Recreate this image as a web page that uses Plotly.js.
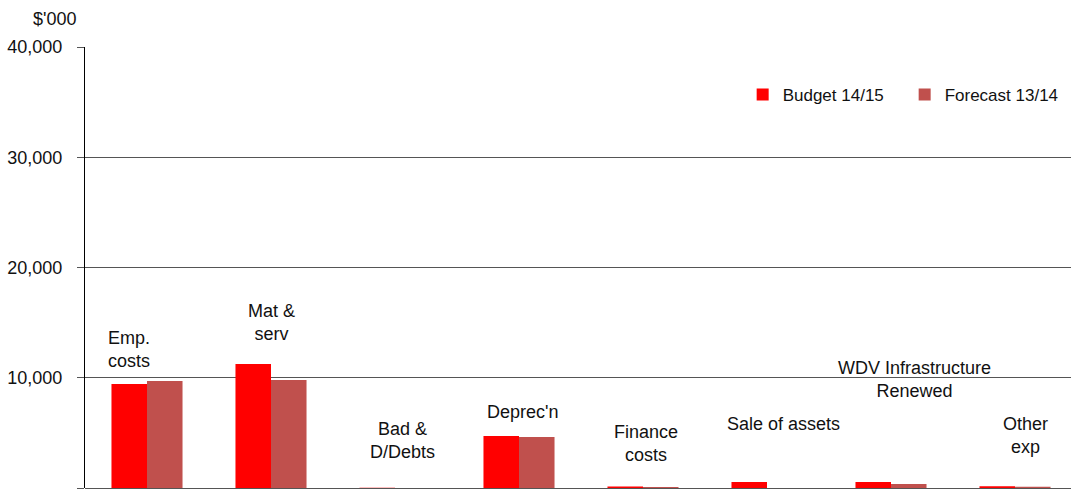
<!DOCTYPE html>
<html>
<head>
<meta charset="utf-8">
<script src="https://cdn.plot.ly/plotly-3.0.1.min.js"></script>
<style>html,body{margin:0;padding:0;background:#fff;}#chart{width:1071px;height:497px;}</style>
</head>
<body>
<div id="chart"></div>
<script>
const categories = ["Emp.<br>costs", "Mat &<br>serv", "Bad &<br>D/Debts", "Deprec'n", "Finance<br>costs", "Sale of assets", "WDV Infrastructure<br>Renewed", "Other<br>exp"];
const budget1415 = [9430, 11240, 20, 4710, 140, 540, 540, 170];
const forecast1314 = [9700, 9790, 10, 4620, 100, 0, 360, 120];
const labelY = [12600, 14970, 4350, 6890, 4040, 5800, 9840, 4760];
const labelShift = [-18, 0, 7, 3, 3, 16, 23, 10];
const tickVals = [0, 10000, 20000, 30000, 40000];
const tickText = ["0", "10,000", "20,000", "30,000", "40,000"];

const idx = categories.map((c, i) => i);
const font = {family: "Liberation Sans, Arial, sans-serif", size: 18, color: "#111"};

const traces = [
  {type: "bar", name: "Budget 14/15", x: idx, y: budget1415, marker: {color: "#FF0000"}},
  {type: "bar", name: "Forecast 13/14", x: idx, y: forecast1314, marker: {color: "#C0504D"}}
];

const annotations = categories.map((c, i) => ({
  x: i, y: labelY[i], xref: "x", yref: "y", text: c, showarrow: false,
  xshift: labelShift[i], xanchor: "center", yanchor: "middle", align: "center",
  font: font
}));
annotations.push({x: (54 - 85) / 986, y: (488 - 19) / 441, xref: "paper", yref: "paper",
  text: "$'000", showarrow: false, font: font, xanchor: "center", yanchor: "middle"});

const layout = {
  width: 1071, height: 497,
  margin: {l: 85, r: 0, t: 47, b: 9, autoexpand: false},
  paper_bgcolor: "#fff", plot_bgcolor: "#fff",
  font: font,
  barmode: "group",
  bargap: 0.427,
  bargroupgap: 0,
  showlegend: true,
  legend: {orientation: "h", x: 0.667, y: 0.891, xanchor: "left", yanchor: "middle",
    entrywidth: 117, entrywidthmode: "pixels",
    font: {family: "Liberation Sans, Arial, sans-serif", size: 17, color: "#111"},
    bgcolor: "rgba(0,0,0,0)", traceorder: "normal"},
  xaxis: {type: "linear", range: [-0.5, 7.4516], showticklabels: false, showgrid: false,
    zeroline: false, showline: false, ticks: "", fixedrange: true},
  yaxis: {range: [0, 40000], tickvals: tickVals, ticktext: tickText, showgrid: true,
    gridcolor: "#555", gridwidth: 1, zeroline: true, zerolinecolor: "#555", zerolinewidth: 1,
    showline: true, linecolor: "#000", linewidth: 1, ticks: "outside", ticklen: 7,
    ticklabelstandoff: 11,
    tickcolor: "#555", tickfont: font, fixedrange: true},
  annotations: annotations
};

Plotly.newPlot("chart", traces, layout, {displayModeBar: false, staticPlot: true});
</script>
</body>
</html>
